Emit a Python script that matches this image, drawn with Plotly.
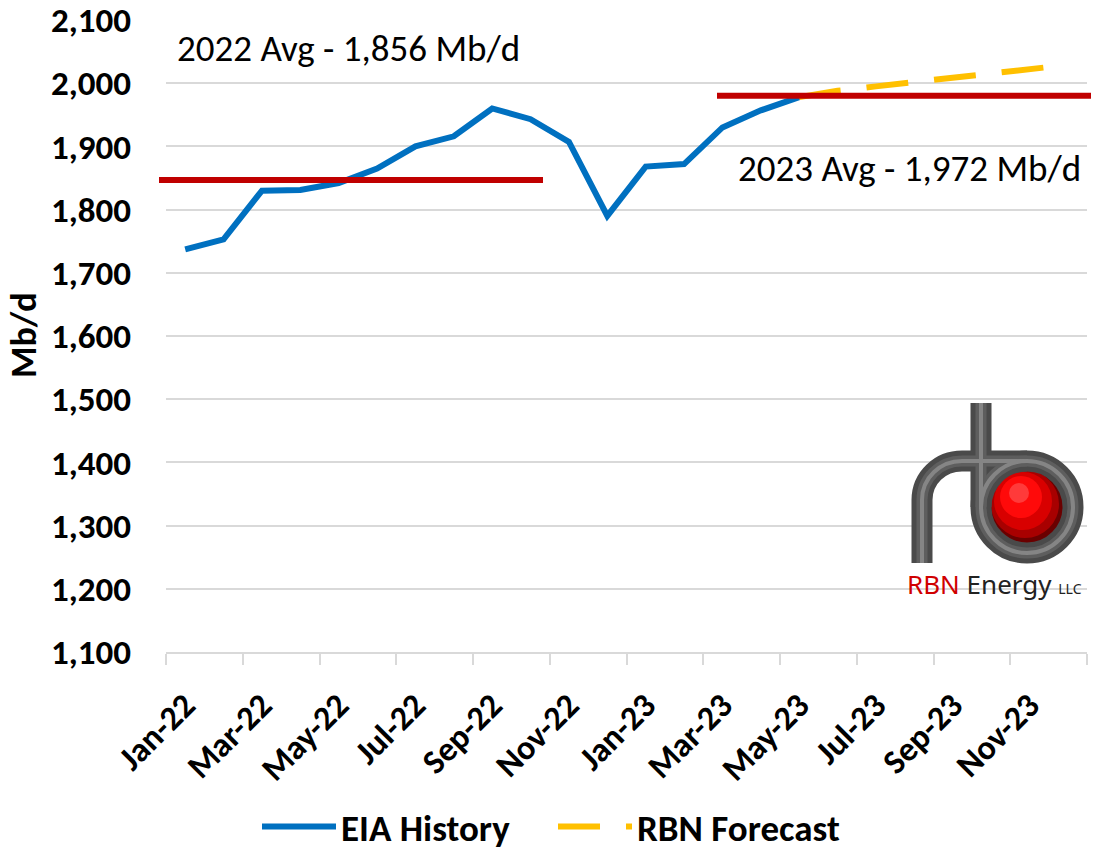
import plotly.graph_objects as go

# data
months = ["Jan-22", "Feb-22", "Mar-22", "Apr-22", "May-22", "Jun-22", "Jul-22", "Aug-22",
          "Sep-22", "Oct-22", "Nov-22", "Dec-22", "Jan-23", "Feb-23", "Mar-23", "Apr-23",
          "May-23", "Jun-23", "Jul-23", "Aug-23", "Sep-23", "Oct-23", "Nov-23", "Dec-23"]
eia_months = months[:17]
eia_history = [1737, 1753, 1830, 1831, 1842, 1865, 1900, 1916, 1960, 1943, 1907, 1790,
               1868, 1872, 1930, 1957, 1978]
rbn_months = months[16:]
rbn_forecast = [1978, 1988, 1995, 2002, 2008, 2015, 2021, 2029]
avg_levels = [1847, 1980]
avg_labels = ["2022 Avg - 1,856 Mb/d", "2023 Avg - 1,972 Mb/d"]

FONT = "Carlito, Noto Sans, sans-serif"
W, H = 1099, 850
OFF = 8  # page body margin; positions below are given in screenshot pixels

# plot area in screenshot pixels, used to place decorations
L, R, T, B = 166, 1087, 20, 652


def px(x):
    return (x - L) / (R - L)


def py(y):
    return (B - y) / (B - T)


fig = go.Figure()
fig.add_trace(go.Scatter(
    x=eia_months, y=eia_history, name="EIA History", mode="lines",
    line=dict(color="#0070C0", width=6),
))
fig.add_trace(go.Scatter(
    x=rbn_months, y=rbn_forecast, name="RBN Forecast", mode="lines",
    line=dict(color="#FFC000", width=6, dash="42px,26px"),
))

# average lines
avg_spans = [(159, 543), (717, 1099)]
for (x0, x1), lvl in zip(avg_spans, avg_levels):
    fig.add_shape(type="line", xref="paper", yref="y", x0=px(x0), x1=px(x1), y0=lvl, y1=lvl,
                  line=dict(color="#C00000", width=6), layer="above")

label_pos = [(175, 48), (736, 168)]
for (x, y), txt in zip(label_pos, avg_labels):
    fig.add_annotation(xref="paper", yref="paper", x=px(x), y=py(y), text=txt, showarrow=False,
                       xanchor="left", yanchor="middle", font=dict(family=FONT, size=37, color="#000"))

# y axis title
fig.add_annotation(xref="paper", yref="paper", x=px(24), y=py(335), text="Mb/d", showarrow=False,
                   textangle=-90, xanchor="center", yanchor="middle",
                   font=dict(family=FONT, size=36, color="#000", weight="bold"))

# RBN logo
cx, cy = 1027, 507
for r, dx, dy, col in [(37, 0, 0, "#6a0000"), (34, -2, -3, "#a80000"), (29, -4, -6, "#d80000"),
                       (21, -6, -10, "#ff0a0a"), (10, -8, -14, "#ff3a3a")]:
    fig.add_shape(type="circle", xref="paper", yref="paper",
                  x0=px(cx + dx - r), x1=px(cx + dx + r), y0=py(cy + dy + r), y1=py(cy + dy - r),
                  fillcolor=col, line_width=0)
r_path = (f"M {px(922)},{py(563)} L {px(922)},{py(500)} "
          f"C {px(922)},{py(478)} {px(940)},{py(461)} {px(962)},{py(461)} L {px(1027)},{py(461)}")
for w, c in [(21, "#4a4a4a"), (11, "#5e5e5e"), (4, "#858585")]:
    fig.add_shape(type="path", xref="paper", yref="paper", path=r_path, line=dict(color=c, width=w))
    fig.add_shape(type="circle", xref="paper", yref="paper", x0=px(cx - 46), x1=px(cx + 46),
                  y0=py(cy + 46), y1=py(cy - 46), line=dict(color=c, width=w))
    fig.add_shape(type="line", xref="paper", yref="paper", x0=px(981), x1=px(981),
                  y0=py(403), y1=py(cy), line=dict(color=c, width=w))
fig.add_annotation(xref="paper", yref="paper", x=px(905), y=py(584), xanchor="left", yanchor="middle",
                   showarrow=False,
                   text="<span style='color:#d00000'>RBN</span> Energy <span style='font-size:14px'>LLC</span>",
                   font=dict(family="Noto Sans", size=26, color="#222"))

fig.update_xaxes(
    type="category", categoryorder="array", categoryarray=months,
    tickmode="linear", tick0=0, dtick=2, tickson="boundaries",
    ticks="outside", ticklen=11, tickcolor="#d9d9d9", tickwidth=1.5,
    showline=True, linecolor="#d9d9d9", linewidth=1.5, showgrid=False,
    tickangle=-45, ticklabelstandoff=18,
    tickfont=dict(family=FONT, size=34, color="#000", weight="bold"),
    range=[-0.5, 23.5], automargin=False,
)
fig.update_yaxes(
    range=[1100, 2100], dtick=100, tickformat=",", showgrid=True, gridcolor="#d9d9d9",
    gridwidth=1.5, zeroline=False, showline=False, ticks="",
    ticklabelstandoff=34, automargin=False, ticklabeloverflow="allow",
    tickfont=dict(family=FONT, size=35, color="#000", weight="bold"),
)
fig.update_layout(
    width=W, height=H, autosize=False,
    margin=dict(l=L - OFF, r=W - R + OFF, t=T - OFF, b=H - B + OFF, autoexpand=False),
    plot_bgcolor="white", paper_bgcolor="white",
    showlegend=True,
    legend=dict(orientation="h", x=px(553), xanchor="center", y=py(827), yanchor="middle",
                itemwidth=74, entrywidth=207, entrywidthmode="pixels",
                font=dict(family=FONT, size=37, color="#000", weight="bold"),
                bgcolor="rgba(0,0,0,0)"),
)

fig.write_html("out.html")
